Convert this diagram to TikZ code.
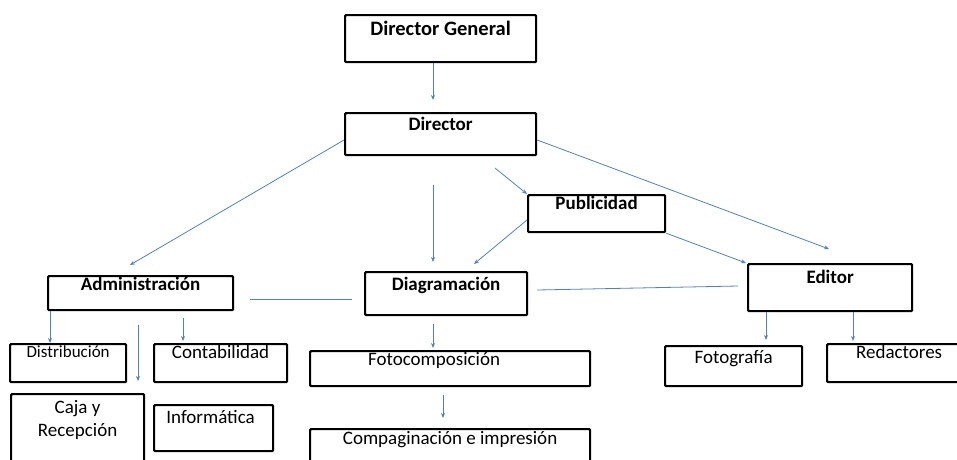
\documentclass[tikz,border=0pt]{standalone}
\usepackage{fontspec}
\setmainfont{Carlito}
\usetikzlibrary{arrows.meta}
\definecolor{linkblue}{RGB}{79,129,189}
\tikzset{
  box/.style={draw=black, line width=2.2pt, rounded corners=1pt, inner sep=0pt, anchor=north west, fill=white},
  txt/.style={anchor=center, font=\fontsize{19}{21}\selectfont, inner sep=0pt, text height=12pt, text depth=0pt},
  stxt/.style={txt, font=\fontsize{17}{19}\selectfont, text height=11pt},
  btxt/.style={txt, font=\fontsize{19}{21}\selectfont\bfseries},
  bbtxt/.style={txt, font=\fontsize{20.5}{23}\selectfont\bfseries, text height=13pt},
  arr/.style={draw=linkblue, line width=0.8pt, -{Stealth[length=5pt,width=4pt]}},
  ln/.style={draw=linkblue, line width=0.8pt}
}
\begin{document}
\begin{tikzpicture}[x=1pt,y=-1pt]
\useasboundingbox (0,0) rectangle (957,459);
% boxes
\node[box, minimum width=191pt, minimum height=47pt, label={[bbtxt,yshift=-15pt]north:Director General}] (dg) at (344,14) {};
\node[box, minimum width=191pt, minimum height=42pt, label={[btxt,yshift=-12pt]north:Director}] (dir) at (344,112) {};
\node[box, minimum width=137pt, minimum height=37pt, label={[btxt,yshift=-9pt]north:Publicidad}] (pub) at (527,194) {};
\node[box, minimum width=185pt, minimum height=34pt, label={[btxt,yshift=-9pt]north:Administración}] (adm) at (47,275) {};
\node[box, minimum width=162pt, minimum height=43pt, label={[btxt,yshift=-13pt]north:Diagramación}] (dia) at (364,271) {};
\node[box, minimum width=164pt, minimum height=47pt, label={[btxt,yshift=-14pt]north:Editor}] (edi) at (747,263) {};
\node[box, minimum width=116pt, minimum height=38pt, label={[stxt,yshift=-9pt]north:Distribución}] (dis) at (9,343) {};
\node[box, minimum width=133pt, minimum height=38pt, label={[txt,yshift=-9pt]north:Contabilidad}] (con) at (153,343) {};
\node[box, minimum width=133pt, minimum height=70pt, label={[txt,yshift=-14pt]north:Caja y}, label={[txt,yshift=-37pt]north:Recepción}] (caj) at (10,393) {};
\node[box, minimum width=119pt, minimum height=46pt, label={[txt,yshift=-13pt,xshift=-3pt]north:Informática}] (inf) at (153,404) {};
\node[box, minimum width=280pt, minimum height=35pt, label={[txt,yshift=-9pt,xshift=-16pt]north:Fotocomposición}] (fot) at (309,350) {};
\node[box, minimum width=280pt, minimum height=40pt, label={[txt,yshift=-10pt]north:Compaginación e impresión}] (com) at (309,428) {};
\node[box, minimum width=137pt, minimum height=40pt, label={[txt,yshift=-12pt]north:Fotografía}] (fgr) at (664,345) {};
\node[box, minimum width=134pt, minimum height=38pt, label={[txt,yshift=-9pt,xshift=5pt]north:Redactores}] (red) at (826,343) {};
% free ends
\coordinate (c1) at (433,100);
\coordinate (c2) at (130,265);
\coordinate (c3s) at (433,185);
\coordinate (c3e) at (433,262);
\coordinate (c4s) at (495,168);
\coordinate (c5e) at (829,249);
\coordinate (c6e) at (474,264);
\coordinate (c7e) at (746,263);
\coordinate (l1s) at (250,299);
\coordinate (l1e) at (352,299);
\coordinate (l2s) at (537,290);
\coordinate (l2e) at (738,286);
\coordinate (a1e) at (50,343);
\coordinate (a2s) at (138,325);
\coordinate (a2e) at (138,381);
\coordinate (a3s) at (183,318);
\coordinate (a3e) at (183,341);
\coordinate (d1s) at (433,324);
\coordinate (d1e) at (433,348);
\coordinate (f1s) at (443,395);
\coordinate (f1e) at (443,418);
\coordinate (e1e) at (766,340);
\coordinate (e2e) at (853,341);
% connectors
\draw[arr] (dg.south -| c1) -- (c1);
\draw[arr] (dir.west |- 0,140) -- (c2);
\draw[arr] (c3s) -- (c3e);
\draw[arr] (c4s) -- (pub.north west);
\draw[arr] (dir.east |- 0,140) -- (c5e);
\draw[arr] (pub.west |- 0,220) -- (c6e);
\draw[arr] (pub.south east) -- (c7e);
\draw[ln] (l1s) -- (l1e);
\draw[ln] (l2s) -- (l2e);
\draw[arr] (adm.south -| a1e) -- (a1e);
\draw[arr] (a2s) -- (a2e);
\draw[arr] (a3s) -- (a3e);
\draw[arr] (d1s) -- (d1e);
\draw[arr] (f1s) -- (f1e);
\draw[arr] (edi.south -| e1e) -- (e1e);
\draw[arr] (edi.south -| e2e) -- (e2e);
\end{tikzpicture}
\end{document}
